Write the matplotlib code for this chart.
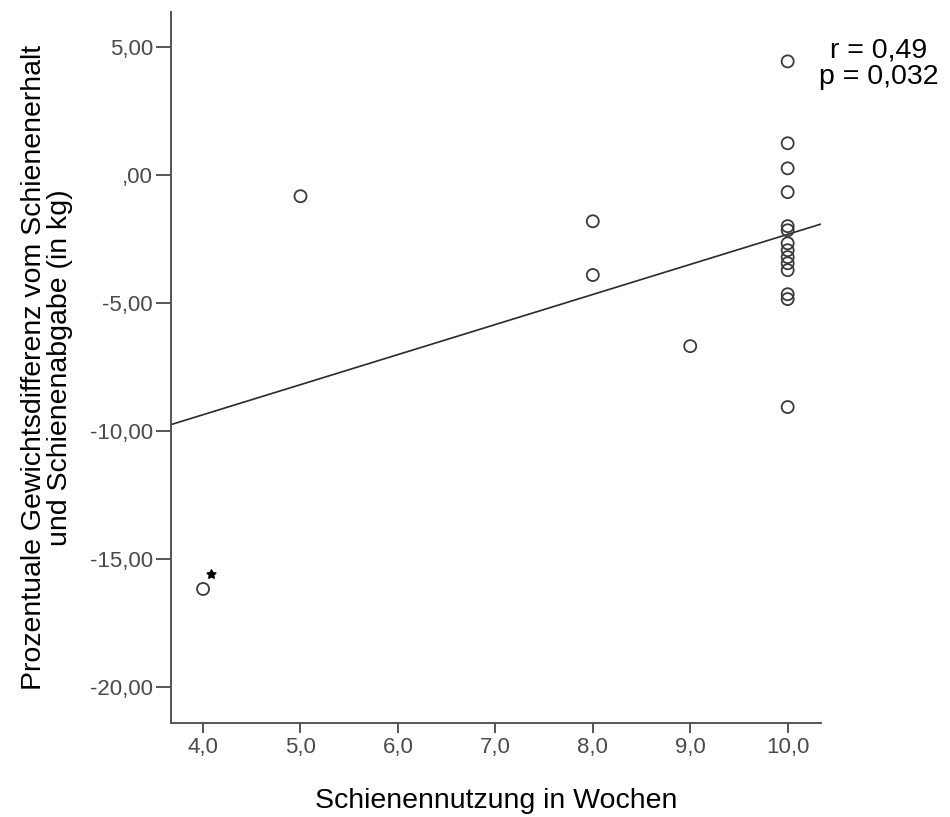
import numpy as np
import matplotlib.pyplot as plt

plt.rcParams['font.family'] = ['Liberation Sans', 'DejaVu Sans']

# splint use (weeks) and percentage weight difference per patient
wochen = [4, 5, 8, 8, 9,
          10, 10, 10, 10, 10, 10, 10, 10, 10, 10, 10, 10, 10, 10]
differenz = [-16.17, -0.82, -1.80, -3.90, -6.68,
             4.45, 1.25, 0.27, -0.66, -1.99, -2.15, -2.66, -2.93,
             -3.20, -3.44, -3.71, -4.65, -4.84, -9.06]

# flagged case next to the lowest point
stern_x = [4.08]
stern_y = [-15.6]

y_ticks = [5, 0, -5, -10, -15, -20]
y_labels = ['5,00', ',00', '-5,00', '-10,00', '-15,00', '-20,00']
x_ticks = [4, 5, 6, 7, 8, 9, 10]
x_labels = ['4,0', '5,0', '6,0', '7,0', '8,0', '9,0', '10,0']

r_text = 'r = 0,49'
p_text = 'p = 0,032'

fig = plt.figure(figsize=(9.5, 8.17), dpi=100)
ax = fig.add_axes([0.18, 0.115, 0.684, 0.87])

xmin, xmax = 3.671, 10.34
ymin, ymax = -21.41, 6.37

ax.scatter(wochen, differenz, s=75, facecolors='none', edgecolors='#3a3a3a',
           linewidths=1.3, zorder=3)
ax.scatter(stern_x, stern_y, marker=(5, 1), s=45, color='black', zorder=3)

# least squares fit line across the full x range
slope, intercept = np.polyfit(wochen, differenz, 1)
xs = np.array([xmin, xmax])
ax.plot(xs, slope * xs + intercept, color='#2a2a2a', linewidth=1.2, zorder=2)

ax.set_xlim(xmin, xmax)
ax.set_ylim(ymin, ymax)
ax.set_xticks(x_ticks)
ax.set_xticklabels(x_labels)
ax.set_yticks(y_ticks)
ax.set_yticklabels(y_labels)

for side in ['top', 'right']:
    ax.spines[side].set_visible(False)
for side in ['left', 'bottom']:
    ax.spines[side].set_color('#555555')
    ax.spines[side].set_linewidth(1.4)

ax.tick_params(axis='both', direction='out', width=1.4, color='#555555',
               labelcolor='#4a4a4a', labelsize=16)
ax.tick_params(axis='y', length=11, pad=2)
ax.tick_params(axis='x', length=7, pad=3)

ax.set_xlabel('Schienennutzung in Wochen', fontsize=20.5, labelpad=22)
ax.set_ylabel('Prozentuale Gewichtsdifferenz vom Schienenerhalt\n'
              'und Schienenabgabe (in kg)', fontsize=20.5, labelpad=12,
              linespacing=1.0)

fig.text(0.925, 0.922, r_text + '\n' + p_text, ha='center', va='center',
         fontsize=20.5, linespacing=1.0)

fig.savefig('out.png', dpi=100)
